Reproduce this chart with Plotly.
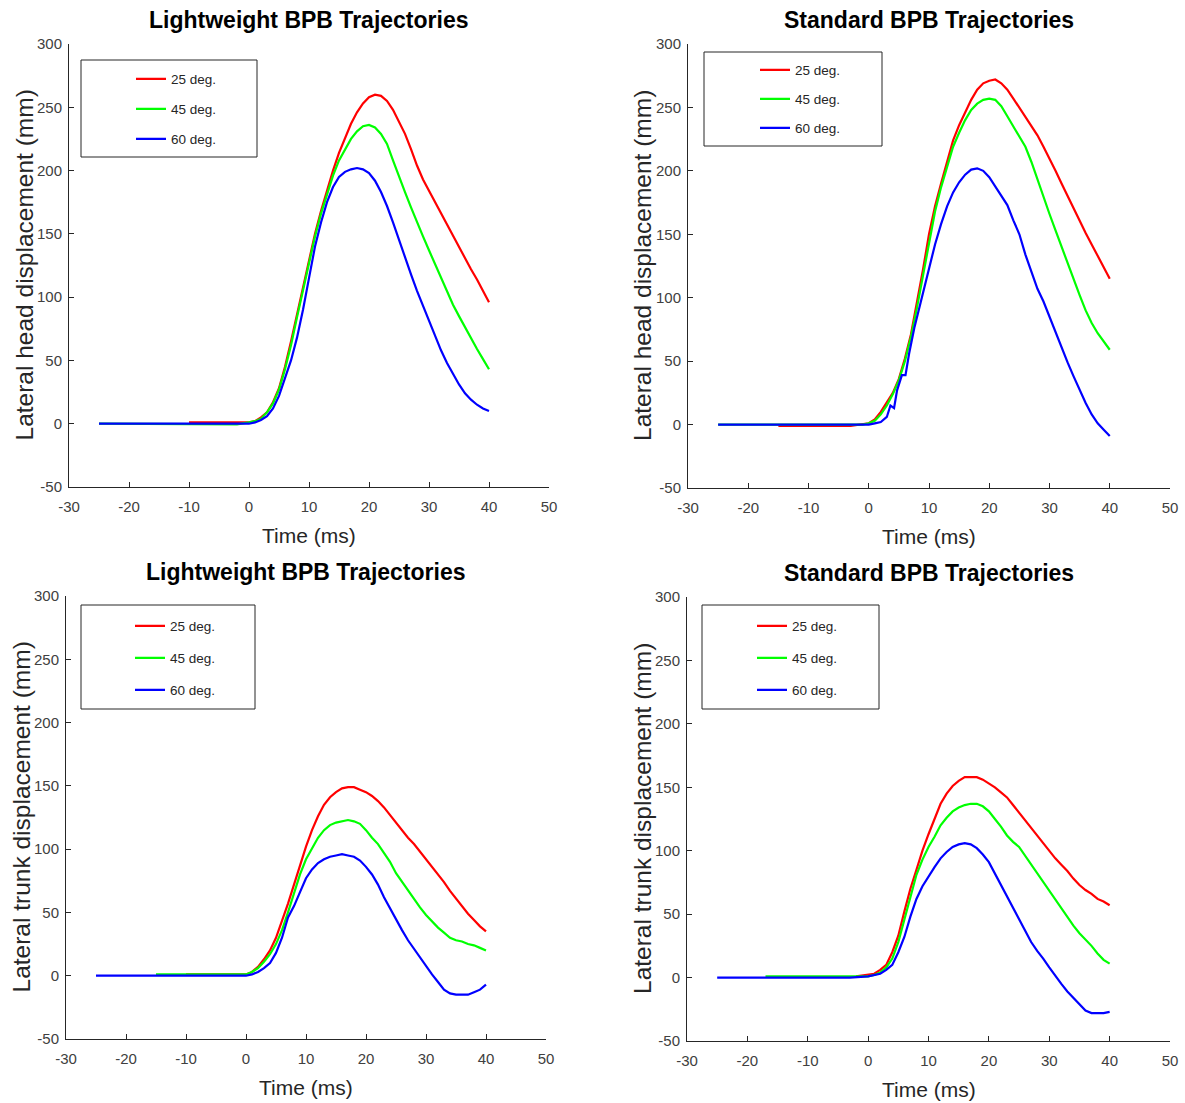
import plotly.graph_objects as go

# ---------------- data ----------------
TIME = list(range(0, 41))  # ms sampling grid used for the main part of each trace

SERIES_NAMES = ["25 deg.", "45 deg.", "60 deg."]
COLORS = ["#ff0000", "#00ff00", "#0000ff"]

X_TICK_VALS = [-30, -20, -10, 0, 10, 20, 30, 40, 50]
X_TICK_TEXT = ["-30", "-20", "-10", "0", "10", "20", "30", "40", "50"]
Y_TICK_VALS = [-50, 0, 50, 100, 150, 200, 250, 300]
Y_TICK_TEXT = ["-50", "0", "50", "100", "150", "200", "250", "300"]

# Lightweight BPB - lateral head displacement (mm)
lw_head_25_t = [-10, -2] + TIME
lw_head_25 = [1, 1, 1, 2, 5, 9, 17, 28, 45, 65, 86, 108, 130, 150, 168, 185, 200, 214, 226, 237, 246, 253,
              258, 260, 259, 255, 248, 239, 229, 217, 204, 193, 184, 175, 166, 158, 149, 140, 131, 122, 114, 105, 96]
lw_head_45_t = [-25, -2] + TIME
lw_head_45 = [0, -0.5, 1, 2, 4, 9, 16, 27, 43, 62, 84, 106, 128, 148, 166, 182, 196, 208, 217, 225, 231, 235,
              236, 234, 229, 221, 208, 195, 183, 171, 159, 148, 137, 126, 115, 104, 94, 85, 76, 67, 59, 51, 43]
lw_head_60_t = [-25] + TIME
lw_head_60 = [0, 0, 1, 3, 6, 12, 22, 36, 50, 68, 90, 115, 140, 159, 175, 187, 195, 199, 201, 202, 201, 198,
              192, 183, 172, 159, 145, 131, 118, 105, 93, 81, 69, 58, 48, 39, 31, 24, 19, 15, 12, 10]

# Standard BPB - lateral head displacement (mm)
st_head_25_t = [-15, -3] + TIME
st_head_25 = [-1, -1, 1, 4, 10, 17, 25, 36, 52, 71, 95, 122, 150, 172, 190, 208, 224, 236, 246, 256, 264, 269,
              271, 272, 269, 264, 257, 250, 243, 236, 228, 219, 210, 200, 190, 180, 170, 160, 151, 142, 133, 124, 115]
st_head_45_t = [-25, -1] + TIME
st_head_45 = [0, 0, 1, 3, 8, 15, 24, 35, 50, 69, 92, 118, 145, 168, 187, 204, 219, 230, 240, 248, 253, 256,
              257, 256, 251, 243, 235, 228, 219, 207, 193, 179, 166, 153, 140, 127, 114, 102, 90, 80, 72, 65, 59]
st_head_60_t = [-25, 0, 1, 2, 3, 3.6, 4.2, 4.7, 5.5, 6.1, 6.7, 7.6, 8.6] + list(range(9, 41))
st_head_60 = [0, 0, 1, 2, 6, 15, 13, 27, 39, 39, 56, 77, 96,
              104, 124, 142, 158, 172, 183, 191, 197, 201, 202, 200, 195, 188, 180, 173, 161, 150, 134,
              120, 107, 97, 85, 72, 60, 49, 38, 27, 17, 8, 1, -4, -9]

# Lightweight BPB - lateral trunk displacement (mm)
lw_trunk_25_t = [-10, -2] + TIME
lw_trunk_25 = [1, 1, 1, 3, 7, 13, 20, 30, 43, 57, 72, 87, 102, 115, 126, 135, 141, 145, 148, 149, 149, 147,
               145, 142, 138, 133, 127, 121, 115, 109, 104, 98, 92, 86, 80, 74, 67, 61, 55, 49, 44, 39, 35]
lw_trunk_45_t = [-15, -2] + TIME
lw_trunk_45 = [1, 1, 1, 3, 6, 11, 17, 25, 36, 50, 65, 80, 92, 101, 109, 115, 119, 121, 122, 123, 122, 120,
               115, 109, 104, 97, 90, 81, 74, 67, 60, 54, 48, 43, 38, 34, 30, 28, 27, 25, 24, 22, 20]
lw_trunk_60_t = [-25] + TIME
lw_trunk_60 = [0, 0, 1, 3, 6, 10, 18, 30, 46, 55, 66, 77, 84, 89, 92, 94, 95, 96, 95, 94, 91, 86,
               80, 72, 62, 53, 44, 36, 28, 21, 14, 7, 1, -5, -11, -14, -15, -15, -15, -13, -11, -7]

# Standard BPB - lateral trunk displacement (mm)
st_trunk_25_t = [-2] + TIME
st_trunk_25 = [1, 2, 3, 6, 10, 20, 33, 52, 70, 85, 100, 113, 125, 137, 145, 151, 155, 158, 158, 158, 156,
               153, 150, 146, 142, 136, 130, 124, 118, 112, 106, 100, 94, 89, 84, 78, 73, 69, 66, 62, 60, 57]
st_trunk_45_t = [-17, -1] + TIME
st_trunk_45 = [1, 1, 1, 2, 4, 8, 15, 28, 46, 65, 81, 93, 103, 111, 120, 126, 131, 134, 136, 137, 137, 135,
               131, 125, 119, 112, 107, 103, 96, 90, 83, 76, 68, 61, 54, 48, 41, 35, 30, 25, 19, 14, 11]
st_trunk_60_t = [-25, -3] + TIME
st_trunk_60 = [0, 0, 1, 2, 3, 6, 10, 20, 32, 48, 62, 72, 80, 87, 94, 99, 103, 105, 106, 105, 102, 97,
               91, 82, 72, 63, 55, 46, 37, 28, 21, 15, 8, 1, -5, -11, -16, -21, -26, -28, -28, -28, -27]

TITLES = ["Lightweight BPB Trajectories", "Standard BPB Trajectories",
          "Lightweight BPB Trajectories", "Standard BPB Trajectories"]
Y_LABELS = ["Lateral head displacement (mm)", "Lateral head displacement (mm)",
            "Lateral trunk displacement (mm)", "Lateral trunk displacement (mm)"]
X_LABEL = "Time (ms)"

# ---------------- layout helpers ----------------
W, H = 1185, 1103
FONT = "Liberation Sans, Arial, Helvetica, sans-serif"
AXC = "#262626"
TICKC = "#404040"


def px_x(p):
    return p / W


def px_y(p):
    return 1 - p / H


# plot-area boxes in pixels: (left, right, top, bottom)
BOXES = [(69, 549, 44, 487), (688, 1170, 44, 488), (66, 546, 596, 1039), (687, 1170, 597, 1041)]
# legend boxes in pixels: (left, right, top, bottom), first row centre y, line end x, row gap
LEG_BOXES = [(81, 257, 60, 157, 80, 166, 9.5), (704, 882, 52, 146, 71, 790, 8.5),
             (81, 255, 605, 709, 627, 165, 11.5), (702, 879, 605, 709, 627, 787, 11.5)]

panels = [
    [(lw_head_25_t, lw_head_25), (lw_head_45_t, lw_head_45), (lw_head_60_t, lw_head_60)],
    [(st_head_25_t, st_head_25), (st_head_45_t, st_head_45), (st_head_60_t, st_head_60)],
    [(lw_trunk_25_t, lw_trunk_25), (lw_trunk_45_t, lw_trunk_45), (lw_trunk_60_t, lw_trunk_60)],
    [(st_trunk_25_t, st_trunk_25), (st_trunk_45_t, st_trunk_45), (st_trunk_60_t, st_trunk_60)],
]

fig = go.Figure()
layout = dict(width=W, height=H, margin=dict(l=0, r=0, t=0, b=0, pad=0, autoexpand=False),
              paper_bgcolor="white", plot_bgcolor="white",
              font=dict(family=FONT, color=AXC), showlegend=True)
annotations = []
shapes = []

for i, series in enumerate(panels):
    sfx = "" if i == 0 else str(i + 1)
    leg = "legend" if i == 0 else "legend" + str(i + 1)
    for j, (t, v) in enumerate(series):
        fig.add_trace(go.Scatter(
            x=t, y=v, mode="lines", name=SERIES_NAMES[j],
            line=dict(color=COLORS[j], width=2.2),
            xaxis="x" + sfx, yaxis="y" + sfx, legend=leg, legendgroup=f"p{i}s{j}",
            hoverinfo="skip"))
    l, r, tp, b = BOXES[i]
    common = dict(showline=True, linecolor=AXC, linewidth=1, ticks="inside", ticklen=5,
                  tickcolor=AXC, tickwidth=1, showgrid=False, zeroline=False, mirror=False,
                  tickfont=dict(family=FONT, size=15, color=TICKC), fixedrange=True,
                  automargin=False, tickmode="array")
    layout["xaxis" + sfx] = dict(common, domain=[px_x(l), px_x(r)], range=[-30, 50],
                                 tickvals=X_TICK_VALS, ticktext=X_TICK_TEXT,
                                 anchor="y" + sfx, ticklabelstandoff=6)
    layout["yaxis" + sfx] = dict(common, domain=[px_y(b), px_y(tp)], range=[-50, 300],
                                 tickvals=Y_TICK_VALS, ticktext=Y_TICK_TEXT,
                                 anchor="x" + sfx, ticklabelstandoff=3)
    cx = (l + r) / 2
    annotations.append(dict(text="<b>" + TITLES[i] + "</b>", x=px_x(cx), y=px_y(tp - 24),
                            xref="paper", yref="paper", showarrow=False, xanchor="center",
                            yanchor="middle", font=dict(family=FONT, size=23, color="black")))
    annotations.append(dict(text=X_LABEL, x=px_x(cx), y=px_y(b + 48), xref="paper", yref="paper",
                            showarrow=False, xanchor="center", yanchor="middle",
                            font=dict(family=FONT, size=21, color=AXC)))
    annotations.append(dict(text=Y_LABELS[i], x=px_x(l - 45), y=px_y((tp + b) / 2), xref="paper",
                            yref="paper", showarrow=False, xanchor="center", yanchor="middle",
                            textangle=-90, font=dict(family=FONT, size=24.5, color=AXC)))
    ll, lr, lt, lb, row0, lend, gap = LEG_BOXES[i]
    shapes.append(dict(type="rect", xref="paper", yref="paper", x0=px_x(ll), x1=px_x(lr),
                       y0=px_y(lb), y1=px_y(lt), line=dict(color=AXC, width=1), fillcolor="white",
                       layer="below"))
    layout[leg] = dict(x=px_x(lend - 35), y=px_y(row0 - 16.5), xanchor="left", yanchor="top",
                       bgcolor="rgba(0,0,0,0)", borderwidth=0, tracegroupgap=gap,
                       font=dict(family=FONT, size=13.5, color=AXC), itemclick=False,
                       itemdoubleclick=False)

layout["annotations"] = annotations
layout["shapes"] = shapes
fig.update_layout(**layout)
fig.write_html("out.html", config={"displayModeBar": False},
               post_script="document.body.style.margin='0px';document.body.style.overflow='hidden';")
